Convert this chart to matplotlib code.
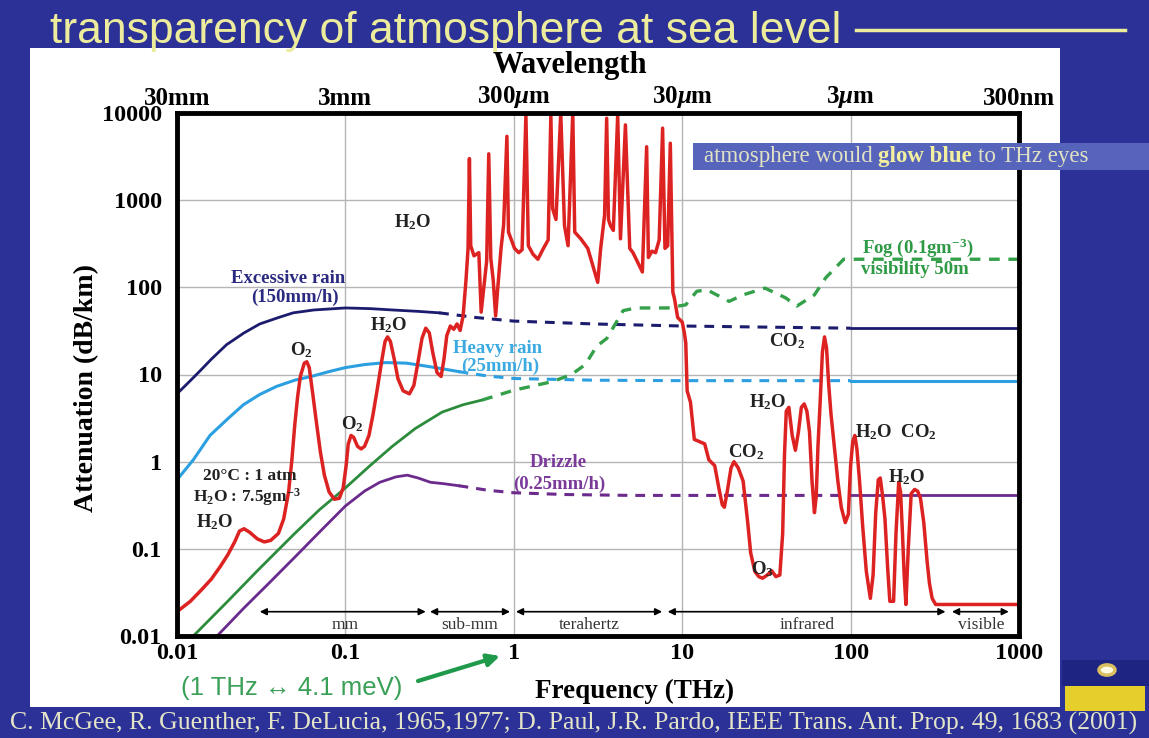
"""
Atmospheric attenuation at sea level vs frequency (slide recreation).
"""

import matplotlib.pyplot as plt
from matplotlib.lines import Line2D
from matplotlib.patches import Circle, Rectangle
from matplotlib.ticker import FixedFormatter, FixedLocator, NullLocator

# ---- data (frequency in THz, attenuation in dB/km) ----
total_f = [0.010, 0.012, 0.014, 0.016, 0.018, 0.020, 0.022, 0.0235, 0.025, 0.027,
           0.030, 0.033, 0.036, 0.040, 0.043, 0.046, 0.048, 0.050, 0.052, 0.054,
           0.057, 0.059, 0.061, 0.064, 0.067, 0.071, 0.075, 0.080, 0.086, 0.092,
           0.097, 0.101, 0.104, 0.108, 0.112, 0.118, 0.124, 0.130, 0.138, 0.146,
           0.155, 0.165, 0.172, 0.178, 0.185, 0.195, 0.205, 0.22, 0.24, 0.255,
           0.27, 0.285, 0.300, 0.315, 0.33, 0.35, 0.37, 0.385, 0.40, 0.42,
           0.44, 0.46, 0.48, 0.50, 0.52, 0.535, 0.545, 0.555, 0.58, 0.62,
           0.64, 0.66, 0.69, 0.71, 0.73, 0.755, 0.78, 0.80, 0.84, 0.87,
           0.91, 0.93, 1.01, 1.07, 1.12, 1.18, 1.22, 1.30, 1.39, 1.50,
           1.60, 1.66, 1.70, 1.78, 1.90, 2.0, 2.1, 2.24, 2.3, 2.5,
           2.75, 2.94, 3.15, 3.28, 3.46, 3.56, 3.65, 3.75, 3.9, 4.14,
           4.3, 4.6, 4.88, 5.1, 5.4, 5.8, 6.15, 6.3, 6.6, 6.95,
           7.3, 7.65, 7.9, 8.2, 8.5, 8.8, 9.0, 9.4, 10.0, 10.3,
           10.5, 10.7, 11.2, 11.6, 11.8, 13.6, 14.4, 15.6, 16.5, 17.3,
           17.8, 18.5, 19.5, 20.3, 21.5, 23.0, 24.5, 25.5, 27, 28.5,
           30, 32, 34, 36, 38, 39.5, 40.5, 41.5, 43, 45,
           47, 49, 51, 53, 55, 57, 59, 61, 62.5, 64,
           66, 68, 70, 72, 74, 76.5, 80, 84, 88, 93,
           97, 100, 103, 106, 109, 113, 118, 124, 131, 136,
           141, 146, 150, 155, 160, 166, 171, 180, 186, 193,
           198, 203, 208, 213, 220, 229, 240, 250, 260, 272,
           285, 294, 305, 320, 1000]
total_att = [0.019, 0.025, 0.034, 0.045, 0.062, 0.085, 0.12, 0.16, 0.17, 0.155,
             0.13, 0.12, 0.125, 0.15, 0.22, 0.45, 1.0, 2.6, 5.5, 9.5,
             13.5, 14, 12, 6, 3, 1.3, 0.7, 0.45, 0.37, 0.38,
             0.5, 0.9, 1.6, 2.0, 1.9, 1.5, 1.4, 1.5, 2.0, 3.5,
             7, 15, 24, 27, 24, 15, 9, 6.5, 6.0, 7.5,
             14, 26, 34, 30, 18, 10.5, 9.5, 15, 28, 36,
             33, 38, 32, 47, 120, 280, 3000, 300, 230, 250,
             52, 90, 200, 3400, 215, 120, 47, 90, 280, 520,
             5400, 430, 280, 250, 270, 9500, 300, 240, 210, 280,
             350, 9500, 800, 600, 10000, 510, 300, 10000, 430, 360,
             280, 180, 114, 280, 670, 8700, 600, 510, 450, 9500,
             360, 7300, 280, 250, 200, 150, 4100, 220, 260, 250,
             350, 6700, 280, 300, 4500, 88, 74, 45, 40, 30,
             23, 6.5, 4.8, 2.5, 1.8, 1.6, 1.05, 0.9, 0.5, 0.32,
             0.30, 0.45, 0.85, 1.0, 0.85, 0.6, 0.2, 0.09, 0.055, 0.048,
             0.046, 0.05, 0.056, 0.048, 0.05, 0.15, 1.2, 3.8, 4.2, 2.0,
             1.35, 2.2, 4.2, 4.6, 3.8, 2.2, 0.6, 0.26, 0.4, 1.5,
             5, 18, 27, 20, 8, 3.5, 1.5, 0.6, 0.3, 0.2,
             0.25, 0.9, 1.7, 2.0, 1.4, 0.6, 0.18, 0.055, 0.027, 0.05,
             0.26, 0.62, 0.65, 0.4, 0.22, 0.06, 0.025, 0.025, 0.15, 0.58,
             0.45, 0.16, 0.05, 0.023, 0.1, 0.43, 0.48, 0.46, 0.38, 0.2,
             0.07, 0.04, 0.027, 0.023, 0.023]

exrain_f = [0.01, 0.012, 0.0137, 0.016, 0.0197, 0.025, 0.031, 0.04, 0.049, 0.065,
            0.1, 0.14, 0.19, 0.27, 0.36]
exrain_att = [6.0, 8.5, 11, 15, 22, 30, 38, 45, 51, 55, 58, 57, 55, 53, 51]
exrain_dash_f = [0.36, 0.6, 1.0, 3, 10, 30, 100]
exrain_dash_att = [51, 45, 41, 38, 36, 35, 34]
exrain_ir_f = [100, 1000]
exrain_ir_att = [34, 34]

hvrain_f = [0.01, 0.0125, 0.0157, 0.02, 0.0248, 0.031, 0.039, 0.05, 0.064, 0.08,
            0.1, 0.13, 0.174, 0.23, 0.30, 0.38, 0.47]
hvrain_att = [0.62, 1.05, 2.0, 3.1, 4.5, 5.9, 7.3, 8.6, 9.6, 10.8,
              12, 13.0, 13.7, 13.5, 12.5, 11.6, 10.8]
hvrain_dash_f = [0.47, 0.7, 1, 3, 10, 30, 100]
hvrain_dash_att = [10.8, 9.6, 9.0, 8.6, 8.5, 8.5, 8.5]
hvrain_ir_f = [100, 1000]
hvrain_ir_att = [8.5, 8.5]

fog_f = [0.0125, 0.02, 0.03, 0.05, 0.07, 0.1, 0.14, 0.19, 0.26, 0.375, 0.5, 0.65]
fog_att = [0.01, 0.025, 0.056, 0.15, 0.28, 0.5, 0.9, 1.5, 2.4, 3.7, 4.5, 5.1]
fog_dash_f = [0.65, 1.0, 1.7, 2.2, 2.66, 3.1, 3.57, 4.46, 5.3, 8.2, 10.5, 12.2,
              14, 19, 23, 31, 41, 48, 61, 71, 91, 1000]
fog_dash_att = [5.1, 6.6, 8.3, 10, 13, 21, 26, 54, 58, 58, 63, 90,
                94, 69, 82, 98, 76, 61, 82, 128, 210, 210]

drizzle_f = [0.0173, 0.025, 0.035, 0.05, 0.07, 0.1, 0.13, 0.16, 0.2, 0.233,
             0.27, 0.32, 0.38, 0.47]
drizzle_att = [0.01, 0.021, 0.04, 0.08, 0.155, 0.31, 0.46, 0.58, 0.67, 0.70,
               0.65, 0.58, 0.56, 0.53]
drizzle_dash_f = [0.47, 0.7, 1.0, 2, 5, 10, 30, 100]
drizzle_dash_att = [0.53, 0.47, 0.44, 0.42, 0.41, 0.41, 0.41, 0.41]
drizzle_ir_f = [100, 1000]
drizzle_ir_att = [0.41, 0.41]

freq_ticks = [0.01, 0.1, 1, 10, 100, 1000]
freq_labels = ["0.01", "0.1", "1", "10", "100", "1000"]
wavelength_labels = ["30mm", "3mm", "300$\\mu$m", "30$\\mu$m", "3$\\mu$m", "300nm"]
att_ticks = [0.01, 0.1, 1, 10, 100, 1000, 10000]
att_labels = ["0.01", "0.1", "1", "10", "100", "1000", "10000"]

band_names = ["mm", "sub-mm", "terahertz", "infrared", "visible"]
band_start = [0.031, 0.318, 1.03, 8.2, 400]
band_end = [0.30, 0.95, 7.6, 366, 870]
band_label_f = [0.1, 0.55, 2.8, 55, 600]

# ---- styling ----
W, H = 1149, 738
BG = "#2b3197"
SERIF = "Liberation Serif"
plt.rcParams["font.family"] = [SERIF, "DejaVu Serif"]
plt.rcParams["font.weight"] = "bold"
plt.rcParams["mathtext.fontset"] = "custom"
plt.rcParams["mathtext.rm"] = "Liberation Serif:bold"
plt.rcParams["mathtext.it"] = "Liberation Serif:italic:bold"
plt.rcParams["mathtext.bf"] = "Liberation Serif:bold"

RED = "#dd2222"
NAVY = "#1c1c6e"
LBLUE = "#2b9fe0"
GREEN = "#2c8c3c"
GREEN_D = "#34a04a"
PURPLE = "#6b2a8c"
DASH = (0, (3.2, 2.6))


def fx(x):
    return x / W


def fy(y):
    return 1 - y / H


fig = plt.figure(figsize=(W / 100, H / 100), dpi=100)
fig.patch.set_facecolor(BG)

# white slide panel
fig.add_artist(Rectangle((fx(30), fy(707)), fx(1060 - 30), (707 - 48) / H,
                         transform=fig.transFigure, facecolor="white",
                         edgecolor="none", zorder=0))

# slide title
fig.text(fx(50), fy(31), "transparency of atmosphere at sea level", fontsize=32,
         color="#ecec9c", family="Liberation Sans", weight="normal",
         ha="left", va="center")
fig.add_artist(Line2D([fx(856), fx(1125)], [fy(30), fy(30)], color="#ecec9c",
                      lw=2.5, transform=fig.transFigure))

ax = fig.add_axes([fx(177), fy(636), fx(1019 - 177), (636 - 113) / H])
ax.set_xscale("log")
ax.set_yscale("log")
ax.set_xlim(0.01, 1000)
ax.set_ylim(0.01, 10000)
ax.set_facecolor("white")

ax.xaxis.set_major_locator(FixedLocator(freq_ticks))
ax.xaxis.set_major_formatter(FixedFormatter(freq_labels))
ax.xaxis.set_minor_locator(NullLocator())
ax.yaxis.set_major_locator(FixedLocator(att_ticks))
ax.yaxis.set_major_formatter(FixedFormatter(att_labels))
ax.yaxis.set_minor_locator(NullLocator())
ax.tick_params(axis="x", length=0, labelsize=17.5, pad=5)
ax.tick_params(axis="y", length=0, labelsize=17.5, pad=11)
ax.grid(True, which="major", color="#b5b5b5", lw=1.0, zorder=0)
for s in ax.spines.values():
    s.set_linewidth(3.5)
    s.set_color("black")
    s.set_zorder(6)

# curves
ax.plot(exrain_f, exrain_att, color=NAVY, lw=2.0, zorder=3)
ax.plot(exrain_dash_f, exrain_dash_att, color=NAVY, lw=2.2, ls=DASH, zorder=3)
ax.plot(exrain_ir_f, exrain_ir_att, color=NAVY, lw=2.0, zorder=3)

ax.plot(hvrain_f, hvrain_att, color=LBLUE, lw=2.2, zorder=3)
ax.plot(hvrain_dash_f, hvrain_dash_att, color=LBLUE, lw=2.2, ls=DASH, zorder=3)
ax.plot(hvrain_ir_f, hvrain_ir_att, color=LBLUE, lw=2.2, zorder=3)

ax.plot(fog_f, fog_att, color=GREEN, lw=2.0, zorder=3)
ax.plot(fog_dash_f, fog_dash_att, color=GREEN_D, lw=2.4, ls=DASH, zorder=3)

ax.plot(drizzle_f, drizzle_att, color=PURPLE, lw=2.0, zorder=3)
ax.plot(drizzle_dash_f, drizzle_dash_att, color=PURPLE, lw=2.2, ls=DASH, zorder=3)
ax.plot(drizzle_ir_f, drizzle_ir_att, color=PURPLE, lw=2.0, zorder=3)

ax.plot(total_f, total_att, color=RED, lw=2.5, zorder=4, solid_joinstyle="round")

# spectral bands
for name, a, b, c in zip(band_names, band_start, band_end, band_label_f):
    ax.annotate("", xy=(b, 0.019), xytext=(a, 0.019),
                arrowprops=dict(arrowstyle="<|-|>", color="black", lw=1.2,
                                mutation_scale=10, shrinkA=0, shrinkB=0), zorder=5)
    ax.text(c, 0.0133, name, ha="center", va="center", fontsize=12.5,
            color="#333333", weight="normal", zorder=5)

# annotations
lab = dict(ha="center", va="center", fontsize=13.5, zorder=5)
ax.text(0.25, 560, r"H$_2$O", color="#222222", **lab)
ax.text(0.046, 125, "Excessive rain", color="#2a2a80", **lab)
ax.text(0.05, 76, "(150mm/h)", color="#2a2a80", **lab)
ax.text(0.055, 19, r"O$_2$", color="#222222", **lab)
ax.text(0.18, 37, r"H$_2$O", color="#222222", **lab)
ax.text(0.11, 2.7, r"O$_2$", color="#222222", **lab)
ax.text(0.80, 20, "Heavy rain", color="#3aaae0", **lab)
ax.text(0.83, 12.4, "(25mm/h)", color="#3aaae0", **lab)
small = dict(lab, fontsize=12.5)
ax.text(0.027, 0.68, "20\u00b0C : 1 atm", color="#222222", **small)
ax.text(0.026, 0.39, r"H$_2$O : 7.5gm$^{-3}$", color="#222222", **small)
ax.text(0.0167, 0.2, r"H$_2$O", color="#222222", **lab)
ax.text(1.83, 0.98, "Drizzle", color="#7a3a9a", **lab)
ax.text(1.85, 0.55, "(0.25mm/h)", color="#7a3a9a", **lab)
ax.text(250, 285, r"Fog (0.1gm$^{-3}$)", color="#2e9a45", **lab)
ax.text(240, 160, "visibility 50m", color="#2e9a45", **lab)
ax.text(42, 24, r"CO$_2$", color="#222222", **lab)
ax.text(32, 4.8, r"H$_2$O", color="#222222", **lab)
ax.text(24, 1.27, r"CO$_2$", color="#222222", **lab)
ax.text(185, 2.2, r"H$_2$O  CO$_2$", color="#222222", **lab)
ax.text(216, 0.66, r"H$_2$O", color="#222222", **lab)
ax.text(30, 0.059, r"O$_3$", color="#222222", **lab)

# top wavelength axis
top = ax.secondary_xaxis("top")
top.set_xticks(freq_ticks, labels=wavelength_labels)
top.xaxis.set_minor_locator(NullLocator())
top.tick_params(length=0, labelsize=18, pad=2)
top.spines["top"].set_visible(False)
fig.text(fx(570), fy(66), "Wavelength", fontsize=22, ha="center", va="center")

ax.set_ylabel("Attenuation (dB/km)", fontsize=20, weight="bold")
ax.yaxis.set_label_coords(-0.093, 0.475)
ax.set_xlabel("Frequency (THz)", fontsize=19.5, weight="bold")
ax.xaxis.set_label_coords(0.543, -0.082)

# green energy note + arrow
fig.text(fx(292), fy(688), "(1 THz \u2194 4.1 meV)", fontsize=18.5, color="#3aa058",
         family=["Liberation Sans", "DejaVu Sans"], weight="normal",
         ha="center", va="center")
fig.add_artist(plt.Annotation("", xy=(fx(500), fy(656)), xytext=(fx(418), fy(681)),
                              xycoords="figure fraction", textcoords="figure fraction",
                              arrowprops=dict(arrowstyle="-|>", color="#1e9a4a", lw=3,
                                              mutation_scale=18, shrinkA=0, shrinkB=0)))

# blue call-out box
fig.add_artist(Rectangle((fx(693), fy(170)), fx(1149 - 693), 27 / H,
                         transform=fig.transFigure, facecolor="#5664bb",
                         edgecolor="none", zorder=7))
base_y = fy(162)
t1 = fig.text(fx(704), base_y, "atmosphere would ", fontsize=16.5, color="#e2e2c4",
              weight="normal", ha="left", va="baseline", zorder=8)
t2 = fig.text(0, base_y, "glow blue ", fontsize=16.5, color="#f2f0a0", weight="bold",
              ha="left", va="baseline", zorder=8)
t3 = fig.text(0, base_y, "to THz eyes", fontsize=16.5, color="#e2e2c4", weight="normal",
              ha="left", va="baseline", zorder=8)
fig.canvas.draw()
r = fig.canvas.get_renderer()
t2.set_x(t1.get_window_extent(r).x1 / fig.bbox.width)
t3.set_x(t2.get_window_extent(r).x1 / fig.bbox.width)

# citation
fig.text(fx(574), fy(723),
         "C. McGee, R. Guenther, F. DeLucia, 1965,1977; D. Paul, J.R. Pardo, "
         "IEEE Trans. Ant. Prop. 49, 1683 (2001)",
         fontsize=18.5, color="#e4e4c8", weight="normal", ha="center", va="center")

# university logo (simplified)
fig.add_artist(Rectangle((fx(1062), fy(686)), fx(1149 - 1062), 26 / H,
                         transform=fig.transFigure, facecolor="#1d2482",
                         edgecolor="none", zorder=1))
fig.add_artist(Circle((fx(1107), fy(670)), 8 / W, transform=fig.transFigure,
                      facecolor="#fffbe0", edgecolor="#d8c060", lw=2.5, zorder=2))
fig.add_artist(Rectangle((fx(1065), fy(711)), fx(1145 - 1065), 25 / H,
                         transform=fig.transFigure, facecolor="#e6cf2a",
                         edgecolor="none", zorder=2))

fig.savefig("out.png", dpi=100, facecolor=BG)
